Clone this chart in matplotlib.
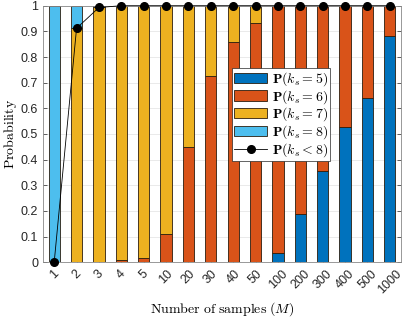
import numpy as np
import matplotlib
matplotlib.use("Agg")
import matplotlib.pyplot as plt

plt.rcParams['mathtext.fontset'] = 'cm'
plt.rcParams['font.family'] = ['Liberation Sans', 'DejaVu Sans']

labels = ['1', '2', '3', '4', '5', '10', '20', '30', '40', '50',
          '100', '200', '300', '400', '500', '1000']
p5 = [0, 0, 0, 0, 0, 0, 0, 0, 0, 0.002, 0.035, 0.187, 0.357, 0.528, 0.639, 0.882]
p6 = [0, 0.002, 0.003, 0.01, 0.015, 0.111, 0.448, 0.726, 0.858, 0.932, 0.965, 0.813, 0.643, 0.472, 0.361, 0.118]
p7 = [0, 0.910, 0.990, 0.99, 0.985, 0.889, 0.552, 0.274, 0.142, 0.066, 0, 0, 0, 0, 0, 0]
p8 = [1, 0.088, 0.007, 0, 0, 0, 0, 0, 0, 0, 0, 0, 0, 0, 0, 0]
p_less8 = [0, 0.912, 0.993, 1, 1, 1, 1, 1, 1, 1, 1, 1, 1, 1, 1, 1]

x = np.arange(1, len(labels) + 1)
p5 = np.array(p5); p6 = np.array(p6); p7 = np.array(p7); p8 = np.array(p8)

fig = plt.figure(figsize=(4.07, 3.18), dpi=100)
ax = fig.add_axes([43/407, 1 - 262.3/318, (401 - 43)/407, (262.3 - 5.7)/318])

w = 0.5
ec = '#2b1d0e'
lw = 0.6
h5 = ax.bar(x, p5, w, color='#0072BD', edgecolor=ec, linewidth=lw, label=r'$\mathbf{P}(k_s=5)$', zorder=2)
h6 = ax.bar(x, p6, w, bottom=p5, color='#D95319', edgecolor=ec, linewidth=lw, label=r'$\mathbf{P}(k_s=6)$', zorder=2)
h7 = ax.bar(x, p7, w, bottom=p5 + p6, color='#EDB120', edgecolor=ec, linewidth=lw, label=r'$\mathbf{P}(k_s=7)$', zorder=2)
h8 = ax.bar(x, p8, w, bottom=p5 + p6 + p7, color='#4DBEEE', edgecolor=ec, linewidth=lw, label=r'$\mathbf{P}(k_s=8)$', zorder=2)
hl, = ax.plot(x, p_less8, '-', color='k', lw=0.6, marker='o', ms=5.5, label=r'$\mathbf{P}(k_s<8)$', zorder=3, clip_on=False)

ax.set_xlim(0.5, len(labels) + 0.5)
ax.set_ylim(0, 1)
ax.set_xticks(x)
ax.set_xticklabels(labels, rotation=45, ha='center', va='top',
                   fontsize=9, color='#262626')
ax.set_yticks(np.arange(0, 1.01, 0.1))
ax.set_yticklabels(['0', '0.1', '0.2', '0.3', '0.4', '0.5', '0.6', '0.7', '0.8', '0.9', '1'],
                   fontsize=9, color='#262626')
ax.yaxis.grid(True, color='#e6e6e6', lw=0.6, zorder=0)
ax.set_axisbelow(True)
ax.tick_params(direction='in', length=3, top=False, right=True, color='#262626', width=0.5)
ax.tick_params(axis='x', pad=4)
for s in ax.spines.values():
    s.set_color('#888888')
    s.set_linewidth(0.6)

ax.set_ylabel(r'$\mathrm{Probability}$', fontsize=10, labelpad=1.5)
ax.set_xlabel(r'$\mathrm{Number\ of\ samples}\ (M)$', fontsize=10, labelpad=3)

leg = ax.legend([h5, h6, h7, h8, hl],
                [h.get_label() for h in [h5, h6, h7, h8, hl]],
                loc='upper left', bbox_to_anchor=(0.528, 0.757), fontsize=10,
                frameon=True, fancybox=False, edgecolor='#262626', framealpha=1,
                handlelength=2.4, handleheight=0.75, borderpad=0.15, labelspacing=0.0,
                handletextpad=0.3, borderaxespad=0)
leg.get_frame().set_linewidth(0.5)

fig.savefig('out.png', dpi=100)
